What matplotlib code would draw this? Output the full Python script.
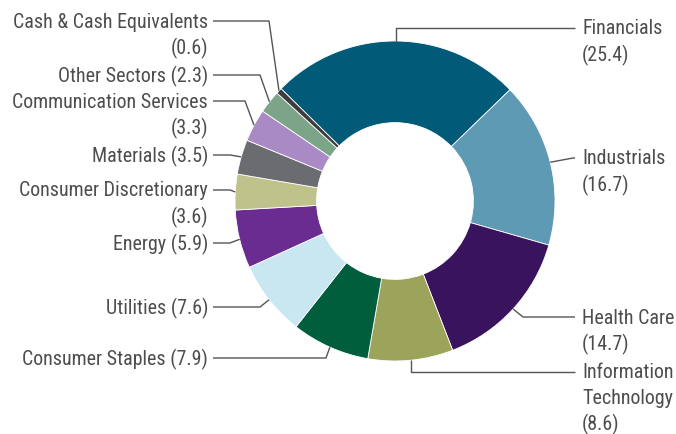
import numpy as np
import matplotlib
matplotlib.use("Agg")
import matplotlib.pyplot as plt
from matplotlib import font_manager

# Sector weights (%)
sectors = ["Financials", "Industrials", "Health Care", "Information Technology",
           "Consumer Staples", "Utilities", "Energy", "Consumer Discretionary",
           "Materials", "Communication Services", "Other Sectors",
           "Cash & Cash Equivalents"]
weights = [25.4, 16.7, 14.7, 8.6, 7.9, 7.6, 5.9, 3.6, 3.5, 3.3, 2.3, 0.6]
colors = ["#005a78", "#5f9ab4", "#39135e", "#9ca35a", "#005e3c", "#c8e7f0",
          "#6a2c91", "#bfc38b", "#6b6c6f", "#a98ac4", "#7ca488", "#3d3d40"]

# How each label is broken into lines: "one" = name and value on one line,
# "two" = name / value, "words" = each word on its own line, then value
label_break = ["two", "two", "two", "words", "one", "one", "one", "two",
               "one", "two", "one", "two"]

W, H = 676, 434
TXT = "#4d4d4d"

# Prefer a condensed face when one is installed
installed = {f.name for f in font_manager.fontManager.ttflist}
family = "Roboto"
for cand in ["Roboto Condensed", "Liberation Sans Narrow", "Open Sans Condensed",
             "Noto Sans Condensed", "Roboto", "Lato"]:
    if cand in installed:
        family = cand
        break
FONT = [family, "DejaVu Sans"]

fig = plt.figure(figsize=(W / 100, H / 100), dpi=100)
ax = fig.add_axes([0, 0, 1, 1])

# Size the labels so the longest one spans about 194 px
probe = fig.text(0, 0, "Cash & Cash Equivalents", fontsize=15, family=FONT)
fig.canvas.draw()
pw = probe.get_window_extent().width
probe.remove()
FS = 15 * 195 / pw

cx, cy, R = 395, H - 201, 160
start = 135.4
ax.pie(weights, colors=colors, startangle=start, counterclock=False,
       center=(cx, cy), radius=R,
       wedgeprops=dict(width=R * 0.51, edgecolor="white", linewidth=0.6))
ax.set_xlim(0, W)
ax.set_ylim(0, H)
ax.set_aspect("equal")
ax.axis("off")

# Leader-line layout: (side, elbow x or None for a straight vertical, label y in px from top)
layout = [
    ("R", None, 28),   # Financials
    ("R", 573, 158),   # Industrials
    ("R", 523, 317),   # Health Care
    ("R", None, 372),  # Information Technology
    ("L", 326, 358),   # Consumer Staples
    ("L", 260, 307),   # Utilities
    ("L", 230, 243),   # Energy
    ("L", 230, 190),   # Consumer Discretionary
    ("L", 230, 155),   # Materials
    ("L", 245, 101),   # Communication Services
    ("L", 260, 75),    # Other Sectors
    ("L", 269, 21),    # Cash & Cash Equivalents
]
LEFT_END, RIGHT_END = 213, 575
LEFT_TXT, RIGHT_TXT = 208, 582
LINE_STEP = 26.5

cum = np.cumsum([0] + weights[:-1])
total = sum(weights)
for name, w, c0, brk, (side, ex, ly) in zip(sectors, weights, cum, label_break, layout):
    mid = np.deg2rad(start - (c0 + w / 2) / total * 360)
    ax_x = cx + R * np.cos(mid)
    ax_y = cy + R * np.sin(mid)
    y = H - ly
    elbow_x = ax_x if ex is None else ex
    end_x = RIGHT_END if side == "R" else LEFT_END
    ax.plot([ax_x, elbow_x, end_x], [ax_y, y, y], color="#555555", lw=1.0,
            solid_capstyle="butt")

    val = f"({w})"
    if brk == "one":
        lines = [f"{name} {val}"]
    elif brk == "two":
        lines = [name, val]
    else:
        lines = name.split() + [val]
    step = 25.5 if len(lines) > 2 else LINE_STEP
    tx = RIGHT_TXT if side == "R" else LEFT_TXT
    ha = "left" if side == "R" else "right"
    for i, t in enumerate(lines):
        ax.text(tx, y - 1 - i * step, t, ha=ha, va="center", color=TXT,
                fontsize=FS, family=FONT)

fig.savefig("out.png", dpi=100)
